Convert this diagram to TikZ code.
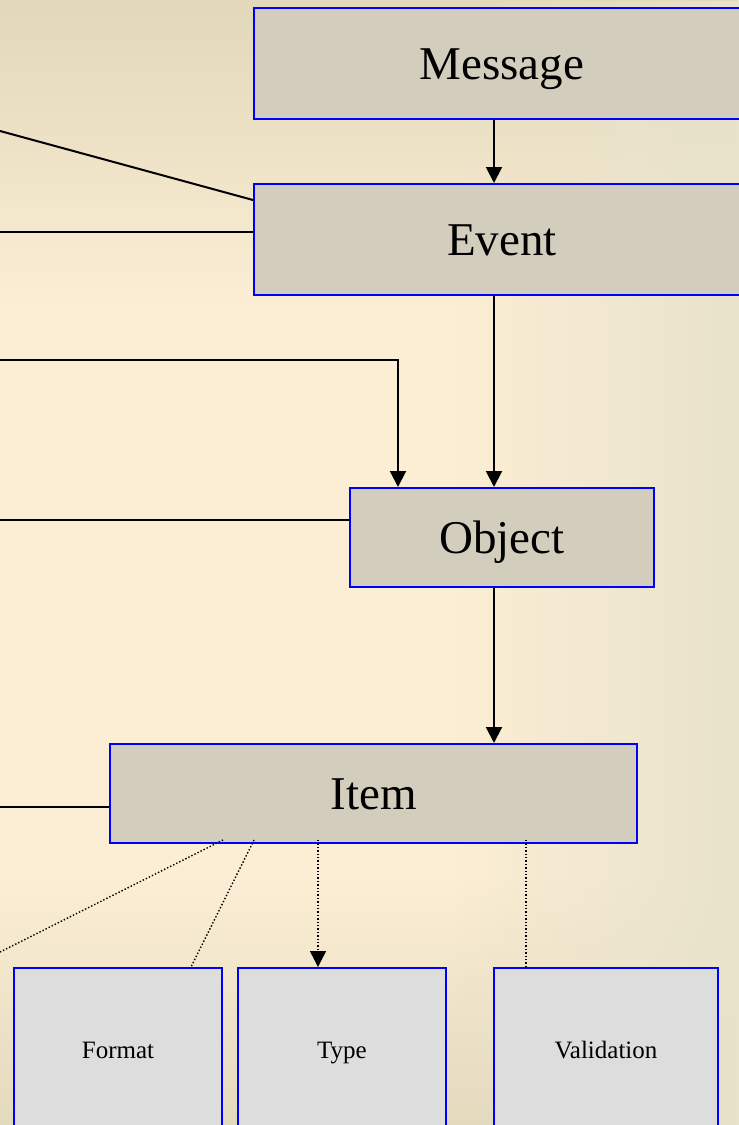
\documentclass[tikz,border=0pt]{standalone}
\usepackage{fontspec}
\setmainfont{Liberation Serif}
\usetikzlibrary{positioning, arrows.meta, fadings}
\definecolor{cardgray}{RGB}{210,205,189}
\definecolor{leafgray}{RGB}{221,221,221}
\definecolor{bgtop}{RGB}{226,216,186}
\definecolor{bgmid}{RGB}{251,238,212}
\definecolor{bgbot}{RGB}{228,218,190}
\definecolor{bgside}{RGB}{233,227,204}

\begin{document}
\begin{tikzpicture}[x=1pt, y=-1pt, >={Triangle[length=16pt,width=16pt]},
		line width=2pt]
		\tikzstyle{big}=[draw=blue, fill=cardgray, line width=2pt, inner sep=0pt,
			font=\fontsize{47}{50}\selectfont, text height=32pt, text depth=0pt]
		\tikzstyle{small}=[draw=blue, fill=leafgray, line width=2pt, inner sep=0pt,
			font=\fontsize{25}{28}\selectfont, text height=17pt, text depth=0pt,
			minimum height=164pt]
		\tikzstyle{link}=[dotted, line width=1.4pt]

		\useasboundingbox (0,0) rectangle (739,1125);
		\clip (0,0) rectangle (739,1125);
		\fill[bgmid] (0,0) rectangle (739,1125);
		\fill[bgtop, path fading=south] (0,0) rectangle (739,300);
		\fill[bgbot, path fading=north] (0,880) rectangle (739,1125);
		\fill[bgside, path fading=west] (460,0) rectangle (739,1125);

		\node[big, minimum width=496pt, minimum height=111pt] (msg) at (502,63.5) {Message};
		\node[big, minimum width=496pt, minimum height=111pt] (evt) at (502,239.5) {Event};
		\node[big, minimum width=304pt, minimum height=99pt] (obj) at (502,537.5) {Object};
		\node[big, minimum width=527pt, minimum height=99pt] (itm) at (373.5,793.5) {Item};
		\node[small, minimum width=208pt] (fmt) at (118,1050) {Format};
		\node[small, minimum width=208pt] (typ) at (342,1050) {Type};
		\node[small, minimum width=224pt] (val) at (606,1050) {Validation};

		\coordinate (spine) at (494,0);
		\coordinate (inA) at (0,131);
		\coordinate (inB) at (0,232);
		\coordinate (inC) at (0,360);
		\coordinate (inD) at (0,520);
		\coordinate (inE) at (0,807);
		\coordinate (inF) at (0,952);

		\draw[->] (msg.south -| spine) -- (evt.north -| spine);
		\draw[->] (evt.south -| spine) -- (obj.north -| spine);
		\draw[->] (obj.south -| spine) -- (itm.north -| spine);
		\draw (inA) -- ([yshift=39.5pt]evt.west);
		\draw (inB) -- (inB -| evt.west);
		\draw[->] (inC) -| ([xshift=-104pt]obj.north);
		\draw (inD) -- (inD -| obj.west);
		\draw (inE) -- (inE -| itm.west);

		\draw[link] ([xshift=-150.5pt,yshift=4pt]itm.south) -- (inF);
		\draw[link] ([xshift=-119.5pt,yshift=4pt]itm.south) -- ([xshift=73pt]fmt.north);
		\draw[link,->] ([xshift=-55.5pt,yshift=4pt]itm.south) -- ([xshift=-24pt]typ.north);
		\draw[link] ([xshift=152.5pt,yshift=4pt]itm.south) -- ([xshift=-80pt]val.north);
	\end{tikzpicture}
\end{document}
